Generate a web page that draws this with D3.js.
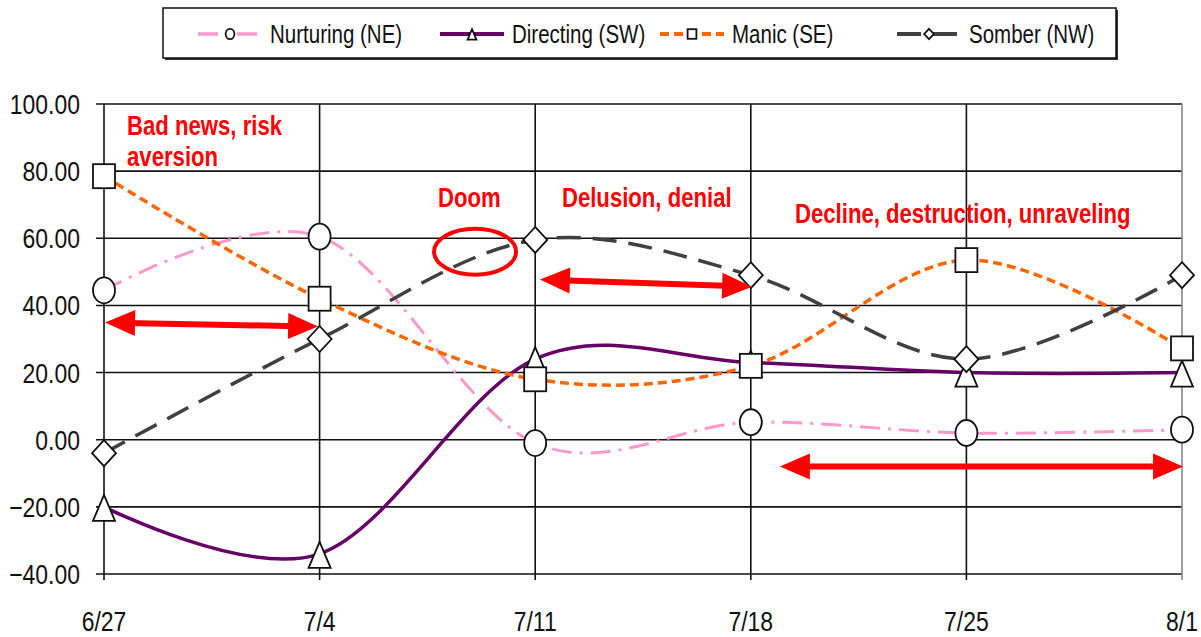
<!DOCTYPE html>
<html lang="en">
<head>
    <meta charset="UTF-8">
    <title>Market Moods</title>
    <script src="https://d3js.org/d3.v7.min.js"></script>
    <style>
        body {
            margin: 0;
            background: #ffffff;
            overflow: hidden;
        }

        svg text {
            font-family: "Liberation Sans", Arial, sans-serif;
        }
    </style>
</head>
<body>
<script>
    // data
    const dates = ["6/27", "7/4", "7/11", "7/18", "7/25", "8/1"];
    const nurturing = [44.5, 60.5, -1, 5.2, 2, 3];
    const directing = [-20, -34, 24, 23, 20, 20];
    const manic = [78.5, 42, 18, 22, 53.5, 27.2];
    const somber = [-4, 30, 59.5, 49, 24, 49];
    const yTicks = [100, 80, 60, 40, 20, 0, -20, -40];

    const width = 1201, height = 637;
    const plotLeft = 104, plotRight = 1182, plotTop = 104, plotBottom = 574;
    const narrow = 0.82; // the original text is a condensed face

    const svg = d3.select("body").append("svg")
        .attr("width", width)
        .attr("height", height);

    const x = d3.scalePoint().domain(dates).range([plotLeft, plotRight]);
    const xi = d3.scaleLinear().domain([0, dates.length - 1]).range([plotLeft, plotRight]);
    const y = d3.scaleLinear().domain([-40, 100]).range([plotBottom, plotTop]);

    const squeeze = (px, py) => `translate(${px},${py}) scale(${narrow},1)`;

    // horizontal grid + y ticks
    svg.append("g")
        .selectAll("line")
        .data(yTicks)
        .enter().append("line")
        .attr("x1", plotLeft - 8)
        .attr("x2", plotRight)
        .attr("y1", d => y(d))
        .attr("y2", d => y(d))
        .attr("stroke", "#111")
        .attr("stroke-width", 1.6);

    // vertical grid (one per date)
    svg.append("g")
        .selectAll("line")
        .data(dates)
        .enter().append("line")
        .attr("x1", d => x(d))
        .attr("x2", d => x(d))
        .attr("y1", plotTop)
        .attr("y2", plotBottom + 6)
        .attr("stroke", (d, i) => i === dates.length - 1 ? "#888" : "#111")
        .attr("stroke-width", 1.6);

    svg.append("g")
        .selectAll("text")
        .data(yTicks)
        .enter().append("text")
        .attr("transform", d => squeeze(80, y(d) + 10))
        .attr("text-anchor", "end")
        .attr("font-size", 28)
        .attr("fill", "#111")
        .text(d => d3.format(".2f")(d));

    svg.append("g")
        .selectAll("text")
        .data(dates)
        .enter().append("text")
        .attr("transform", d => squeeze(x(d), 631))
        .attr("text-anchor", "middle")
        .attr("font-size", 28)
        .attr("fill", "#111")
        .text(d => d);

    const series = [
        {name: "Nurturing (NE)", values: nurturing, color: "#ff99cc", dash: "20,8,3,8", width: 3, marker: "circle"},
        {name: "Directing (SW)", values: directing, color: "#660066", dash: null, width: 3.5, marker: "triangle"},
        {name: "Manic (SE)", values: manic, color: "#ff6600", dash: "9,5", width: 3.5, marker: "square"},
        {name: "Somber (NW)", values: somber, color: "#404040", dash: "24,12", width: 3.5, marker: "diamond"}
    ];

    const line = d3.line()
        .x((d, i) => x(dates[i]))
        .y(d => y(d))
        .curve(d3.curveCardinal.tension(0));

    series.forEach(s => {
        svg.append("path")
            .attr("d", line(s.values))
            .attr("fill", "none")
            .attr("stroke", s.color)
            .attr("stroke-width", s.width)
            .attr("stroke-dasharray", s.dash);
    });

    function drawMarker(g, type, cx, cy, k) {
        let m;
        if (type === "circle") {
            m = g.append("ellipse").attr("cx", cx).attr("cy", cy).attr("rx", 11 * k).attr("ry", 13 * k);
        } else if (type === "square") {
            m = g.append("rect").attr("x", cx - 11 * k).attr("y", cy - 12 * k)
                .attr("width", 22 * k).attr("height", 24 * k);
        } else if (type === "triangle") {
            m = g.append("path").attr("d",
                `M${cx},${cy - 12 * k}L${cx + 11 * k},${cy + 14 * k}L${cx - 11 * k},${cy + 14 * k}Z`);
        } else {
            m = g.append("path").attr("d",
                `M${cx},${cy - 13 * k}L${cx + 12 * k},${cy}L${cx},${cy + 13 * k}L${cx - 12 * k},${cy}Z`);
        }
        m.attr("fill", "#fff").attr("stroke", "#111").attr("stroke-width", 1.8);
    }

    series.forEach(s => {
        const g = svg.append("g");
        s.values.forEach((v, i) => drawMarker(g, s.marker, x(dates[i]), y(v), 1));
    });

    // annotations, placed in chart coordinates (date index, value)
    const red = "#ff0000";
    const notes = [
        {text: "Bad news, risk", at: [0.107, 90.9]},
        {text: "aversion", at: [0.107, 81.6]},
        {text: "Doom", at: [1.549, 69.4]},
        {text: "Delusion, denial", at: [2.124, 69.4]},
        {text: "Decline, destruction, unraveling", at: [3.205, 64.6]}
    ];
    const arrows = [
        {from: [0.005, 34.9], to: [0.993, 33.7]},
        {from: [2.022, 47.7], to: [3.006, 45.6]},
        {from: [3.135, -8], to: [5.005, -8]}
    ];
    const ring = {at: [1.721, 56]};

    svg.append("g")
        .selectAll("text")
        .data(notes)
        .enter().append("text")
        .attr("transform", d => squeeze(xi(d.at[0]), y(d.at[1])))
        .attr("font-size", 27)
        .attr("font-weight", "bold")
        .attr("fill", red)
        .text(d => d.text);

    svg.append("ellipse")
        .attr("cx", xi(ring.at[0]))
        .attr("cy", y(ring.at[1]))
        .attr("rx", 41)
        .attr("ry", 23)
        .attr("fill", "none")
        .attr("stroke", red)
        .attr("stroke-width", 4);

    arrows.forEach(a => {
        const x1 = xi(a.from[0]), y1 = y(a.from[1]);
        const x2 = xi(a.to[0]), y2 = y(a.to[1]);
        const ang = Math.atan2(y2 - y1, x2 - x1);
        const len = Math.hypot(x2 - x1, y2 - y1);
        const g = svg.append("g")
            .attr("transform", `translate(${x1},${y1}) rotate(${ang * 180 / Math.PI})`);
        g.append("line")
            .attr("x1", 20).attr("x2", len - 20)
            .attr("y1", 0).attr("y2", 0)
            .attr("stroke", red).attr("stroke-width", 6);
        g.append("path")
            .attr("d", `M0,0L30,-13L30,13Z`)
            .attr("fill", red);
        g.append("path")
            .attr("d", `M${len},0L${len - 30},-13L${len - 30},13Z`)
            .attr("fill", red);
    });

    // legend
    const legendX = [198, 440, 660, 897];
    const legend = svg.append("g");
    legend.append("rect")
        .attr("x", 165).attr("y", 10).attr("width", 953).attr("height", 50)
        .attr("fill", "#333");
    legend.append("rect")
        .attr("x", 163).attr("y", 8).attr("width", 953).attr("height", 50)
        .attr("fill", "#fff").attr("stroke", "#111").attr("stroke-width", 1.5);

    series.forEach((s, i) => {
        const lx = legendX[i], ly = 34;
        legend.append("line")
            .attr("x1", lx).attr("x2", lx + 64)
            .attr("y1", ly).attr("y2", ly)
            .attr("stroke", s.color)
            .attr("stroke-width", s.width + 0.5)
            .attr("stroke-dasharray", s.dash);
        drawMarker(legend, s.marker, lx + 32, ly, 0.4);
        legend.append("text")
            .attr("transform", squeeze(lx + 72, 43))
            .attr("font-size", 25)
            .attr("fill", "#111")
            .text(s.name);
    });
</script>
</body>
</html>
